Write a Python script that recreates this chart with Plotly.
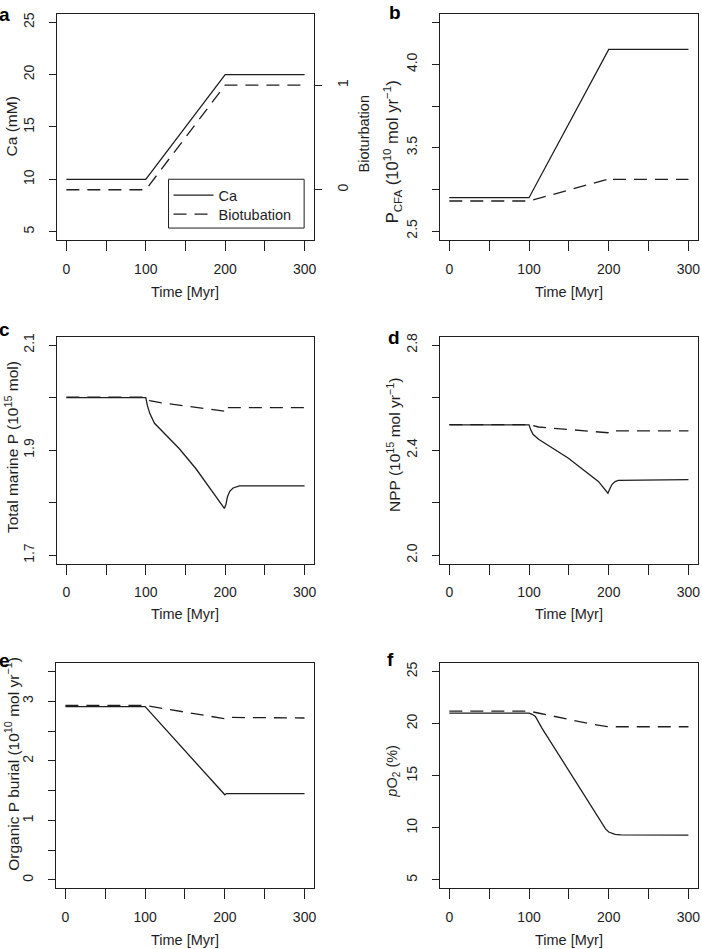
import plotly.graph_objects as go

# -------- Data --------
t_ca = [0, 100, 200, 300]
ca = [10, 10, 20, 20]
t_biot = [0, 100, 200, 300]
biot = [0, 0, 1, 1]

t_pcfa_ca = [0, 100, 200, 300]
pcfa_ca = [3.20, 3.20, 4.09, 4.09]
t_pcfa_bio = [0, 100, 198, 200, 202, 300]
pcfa_bio = [3.18, 3.18, 3.31, 3.32, 3.31, 3.31]

t_tp_ca = [0, 100, 102, 105, 111, 121, 142, 163, 184, 199, 201, 203, 206, 210, 218, 300]
tp_ca = [2.0, 2.0, 1.985, 1.970, 1.951, 1.935, 1.903, 1.865, 1.821, 1.789, 1.797, 1.812, 1.822, 1.828, 1.832, 1.832]
t_tp_bio = [0, 100, 105, 120, 150, 180, 199, 200, 201, 203, 300]
tp_bio = [2.001, 2.001, 1.994, 1.990, 1.984, 1.977, 1.974, 1.974, 1.983, 1.981, 1.981]

t_npp_ca = [0, 100, 102, 105, 112, 149, 187, 199, 201, 204, 208, 212, 300]
npp_ca = [2.496, 2.496, 2.478, 2.460, 2.441, 2.370, 2.281, 2.236, 2.250, 2.269, 2.280, 2.285, 2.288]
t_npp_bio = [0, 100, 112, 170, 196, 199, 201, 300]
npp_bio = [2.497, 2.497, 2.488, 2.473, 2.466, 2.466, 2.473, 2.473]

t_porg_ca = [0, 100, 200, 202, 300]
porg_ca = [2.91, 2.91, 1.43, 1.45, 1.45]
t_porg_bio = [0, 100, 199, 201, 300]
porg_bio = [2.93, 2.93, 2.71, 2.73, 2.72]

t_o2_ca = [0, 100, 104, 108, 116, 158, 191, 196, 200, 204, 208, 215, 300]
o2_ca = [21.0, 21.0, 20.9, 20.7, 19.6, 14.5, 10.4, 9.9, 9.6, 9.45, 9.37, 9.33, 9.3]
t_o2_bio = [0, 100, 116, 179, 198, 202, 300]
o2_bio = [21.2, 21.2, 20.95, 19.94, 19.71, 19.7, 19.7]

x_major = [0, 100, 200, 300]
x_minor = [50, 150, 250]

W, H = 702, 949
INK = "#1e1e1e"
FONT = "Liberation Sans, Arial, sans-serif"


def px(x):
    return x / W


def py(y):
    return 1 - y / H


solid = dict(color=INK, width=1.3)
dashed = dict(color=INK, width=1.3, dash="13px,8px")

fig = go.Figure()

# (xaxis id, yaxis id, solid x, solid y, dashed x, dashed y)
panels = [
    ("x", "y", t_ca, ca, None, None),
    ("x2", "y2", t_pcfa_ca, pcfa_ca, t_pcfa_bio, pcfa_bio),
    ("x3", "y3", t_tp_ca, tp_ca, t_tp_bio, tp_bio),
    ("x4", "y4", t_npp_ca, npp_ca, t_npp_bio, npp_bio),
    ("x5", "y5", t_porg_ca, porg_ca, t_porg_bio, porg_bio),
    ("x6", "y6", t_o2_ca, o2_ca, t_o2_bio, o2_bio),
]
for xa, ya, xs, ys, xd, yd in panels:
    fig.add_trace(go.Scatter(x=xs, y=ys, mode="lines", line=solid, xaxis=xa, yaxis=ya,
                             name="Ca", showlegend=(xa == "x"), legend="legend"))
    if xd is not None:
        fig.add_trace(go.Scatter(x=xd, y=yd, mode="lines", line=dashed, xaxis=xa, yaxis=ya,
                                 showlegend=False))

# bioturbation forcing on the right axis of panel a
fig.add_trace(go.Scatter(x=t_biot, y=biot, mode="lines", line=dashed, xaxis="x", yaxis="y7",
                         name="Biotubation", legend="legend2"))

# panel boxes in pixels: left, right, top, bottom
boxes = [
    (57, 315, 10, 237), (441, 700, 10, 237),
    (57, 315, 334, 562), (441, 700, 334, 562),
    (56, 315, 662, 888), (441, 700, 662, 888),
]
y_setup = [
    dict(range=[4.2, 25.8], tickvals=[5, 10, 15, 20, 25], minor=[]),
    dict(range=[2.946, 4.303], tickvals=[3.0, 3.5, 4.0], ticktext=["2.5", "3.5", "4.0"],
         minor=[3.25, 3.75, 4.25]),
    dict(range=[1.684, 2.116], tickvals=[1.7, 1.9, 2.1], ticktext=["1.7", "1.9", "2.1"],
         minor=[1.8, 2.0]),
    dict(range=[1.968, 2.832], tickvals=[2.0, 2.4, 2.8], ticktext=["2.0", "2.4", "2.8"],
         minor=[2.2, 2.6]),
    dict(range=[-0.14, 3.64], tickvals=[0, 1, 2, 3], minor=[0.5, 1.5, 2.5, 3.5]),
    dict(range=[4.2, 25.8], tickvals=[5, 10, 15, 20, 25], minor=[]),
]

tick_font = dict(family=FONT, size=14, color=INK)
layout = {}
for i, ((l, r, t, b), ys) in enumerate(zip(boxes, y_setup), start=1):
    sfx = "" if i == 1 else str(i)
    ys = dict(ys)
    yminor = ys.pop("minor")
    layout["xaxis" + sfx] = dict(
        domain=[px(l), px(r)], anchor="y" + sfx, range=[-12, 312],
        tickmode="array", tickvals=x_major, ticks="outside", ticklen=10, tickwidth=1,
        tickcolor=INK, showline=True, mirror=True, linecolor=INK, linewidth=1,
        showgrid=False, zeroline=False, tickfont=tick_font, ticklabelstandoff=6,
        minor=dict(tickmode="array", tickvals=x_minor, ticks="outside", ticklen=10,
                   tickwidth=1, tickcolor=INK, showgrid=False),
    )
    layout["yaxis" + sfx] = dict(
        domain=[py(b), py(t)], anchor="x" + sfx, tickmode="array", ticks="outside",
        ticklen=7, tickwidth=1, tickcolor=INK, showline=True, mirror=True, linecolor=INK,
        linewidth=1, showgrid=False, zeroline=False, tickfont=tick_font, tickangle=-90,
        ticklabelstandoff=9,
        minor=dict(tickmode="array", tickvals=yminor, ticks="outside" if yminor else "",
                   ticklen=7, tickwidth=1, tickcolor=INK, showgrid=False),
        **ys,
    )

layout["yaxis7"] = dict(
    overlaying="y", anchor="x", side="right", range=[-0.48, 1.68],
    tickmode="array", tickvals=[0, 1],
    ticks="outside", ticklen=7, tickwidth=1, tickcolor=INK, showline=False,
    showgrid=False, zeroline=False, tickfont=tick_font, tickangle=-90, ticklabelstandoff=9,
)

fig.update_layout(**layout)

# -------- Text: axis titles and panel letters --------
title_font = dict(family=FONT, size=14.5, color=INK)
big_title = dict(family=FONT, size=15.5, color=INK)
annotations = []


def note(text, x, y, angle=0, font=title_font):
    annotations.append(dict(text=text, x=px(x), y=py(y), xref="paper", yref="paper",
                            showarrow=False, textangle=angle, font=font,
                            xanchor="center", yanchor="middle"))


for cx, cy in [(186, 289), (571, 289), (186, 613), (571, 613), (186, 940), (571, 940)]:
    note("Time [Myr]", cx, cy)

note("Ca (mM)", 12, 123, -90, big_title)
note("Bioturbation", 365, 130, -90)
note("P<sub>CFA</sub>\u00a0(10<sup>10</sup> mol yr<sup>−1</sup>)", 394, 148, -90,
     dict(family=FONT, size=16.5, color=INK))
note("Total marine P (10<sup>15</sup> mol)", 12, 445, -90, big_title)
note("NPP (10<sup>15</sup> mol yr<sup>−1</sup>)", 395, 443, -90, big_title)
note("Organic P burial (10<sup>10</sup> mol yr<sup>−1</sup>)", 12, 763, -90, big_title)
note("<i>p</i>O<sub>2</sub> (%)", 394, 770, -90)

letter_font = dict(family=FONT, size=19, color="#000000")
for s, lx, ly in [("a", 5, 11), ("b", 396, 9), ("c", 5, 327),
                  ("d", 395, 335), ("e", 5, 659), ("f", 392, 658)]:
    note("<b>" + s + "</b>", lx, ly, 0, letter_font)

legend_font = dict(family=FONT, size=14.5, color=INK)
fig.update_layout(
    width=W, height=H,
    margin=dict(l=0, r=0, t=0, b=0),
    paper_bgcolor="white", plot_bgcolor="white",
    annotations=annotations,
    showlegend=True,
    # legend frame of panel a
    shapes=[dict(type="rect", xref="paper", yref="paper", x0=px(169), x1=px(305),
                 y0=py(225), y1=py(176), line=dict(color=INK, width=1),
                 fillcolor="white", layer="above")],
    legend=dict(x=px(169), y=py(192), xanchor="left", yanchor="middle",
                bgcolor="rgba(0,0,0,0)", borderwidth=0, font=legend_font, itemwidth=40),
    legend2=dict(x=px(169), y=py(211), xanchor="left", yanchor="middle",
                 bgcolor="rgba(0,0,0,0)", borderwidth=0, font=legend_font, itemwidth=40),
)

# drop the default page margin so the figure fills the window from its corner
fig.write_html("out.html", config={"displayModeBar": False},
               post_script="document.body.style.margin = '0';")
